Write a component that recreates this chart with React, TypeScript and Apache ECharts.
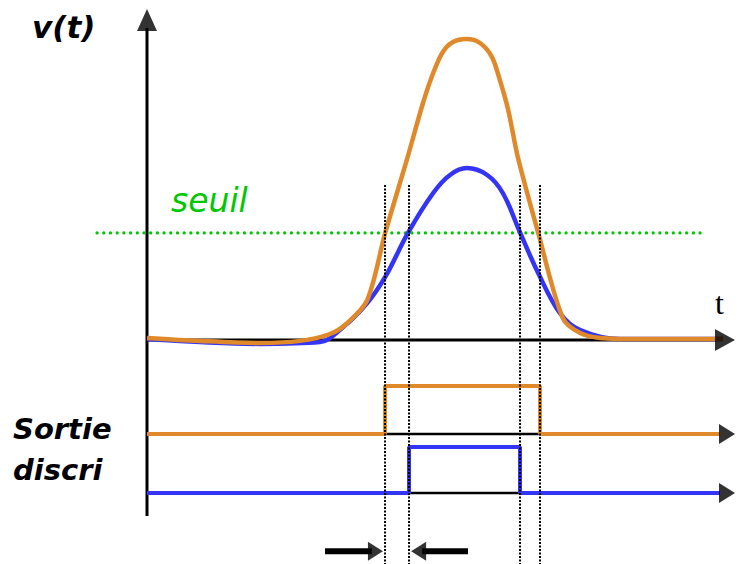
import React, { useEffect, useRef } from "react";
import * as echarts from "echarts";

// Time axis (arbitrary units) and voltage axis (arbitrary units)
const T_MIN = -24.5;
const T_MAX = 99;
const V_MIN = -74.67;
const V_MAX = 113.33;

// Large pulse (orange)
const orangeT = [0, 8.8, 18.8, 25.5, 30.5, 33.3, 36.7, 39.7, 43.3, 46, 47.7, 49.3, 51, 53.2, 55.5, 57.5, 58.8, 60.2, 61.8, 65.2, 69.3, 72.2, 75.5, 83.8, 96];
const orangeV = [0.7, -0.3, -1, -0.3, 2, 5.5, 13.3, 35.7, 60, 79, 89, 96, 99.3, 100.3, 99, 94.3, 86.7, 76.7, 61, 35.7, 7.3, 2.3, 0.7, 0.3, 0.3];

// Small pulse (blue)
const blueT = [0, 18.8, 28.8, 32.7, 36.7, 39.7, 43.5, 47.7, 50.5, 53.3, 56.7, 59.3, 62.2, 65.2, 68.8, 72.2, 78.8, 96];
const blueV = [0.3, -1.3, -0.7, 4.3, 12.3, 21, 35.7, 49, 55, 57.3, 55, 49, 35.7, 22.3, 9, 3.3, 0.3, 0.3];

// Discriminator threshold
const SEUIL = 35.7;

// Threshold crossing times [rising, falling]
const orangeCross = [39.67, 65.5];
const blueCross = [43.67, 62.17];

// Discriminator output levels [low, high]
const orangeOut = [-31.33, -15.33];
const blueOut = [-51, -35.67];

const ORANGE = "#e0892a";
const BLUE = "#3434f6";
const GREEN = "#00c800";
const COMIC = "'Comic Sans MS', 'DejaVu Sans', sans-serif";

const seg = (pts: number[][], color: string, width: number, type: any = "solid", z = 2, extra: any = {}) => ({
  type: "line",
  data: pts,
  symbol: "none",
  silent: true,
  z,
  lineStyle: { color, width, type, ...extra },
});

const stepPoints = (cross: number[], lv: number[]) => [
  [0, lv[0]],
  [cross[0], lv[0]],
  [cross[0], lv[1]],
  [cross[1], lv[1]],
  [cross[1], lv[0]],
  [95.5, lv[0]],
];

export default function App() {
  const ref = useRef<HTMLDivElement>(null);
  useEffect(() => {
    if (!ref.current) return;
    const chart = echarts.init(ref.current, null, { renderer: "svg" });

    const orangeData = orangeT.map((t, i) => [t, orangeV[i]]);
    const blueData = blueT.map((t, i) => [t, blueV[i]]);

    const heads = [
      { value: [0, 106.67], symbolRotate: 0, symbolSize: [20, 22] },
      { value: [96.33, 0], symbolRotate: -90, symbolSize: [22, 20] },
      { value: [96.67, orangeOut[0]], symbolRotate: -90, symbolSize: [20, 16] },
      { value: [96.67, blueOut[0]], symbolRotate: -90, symbolSize: [20, 16] },
      { value: [orangeCross[0] - 1.6, -70.4], symbolRotate: -90, symbolSize: [19, 15] },
      { value: [blueCross[0] + 1.6, -70.4], symbolRotate: 90, symbolSize: [19, 15] },
    ];

    const crossTimes = [orangeCross[0], blueCross[0], blueCross[1], orangeCross[1]];

    const series: any[] = [
      // axes
      seg([[0, -58.67], [0, 104]], "#000", 3),
      seg([[0, 0], [95, 0]], "#000", 3),
      // threshold
      seg([[-8.33, SEUIL], [92.2, SEUIL]], GREEN, 3.2, [0.1, 6.6], 3, { cap: "round" }),
      // pulses
      { type: "line", data: blueData, symbol: "none", smooth: 0.35, silent: true, z: 4, lineStyle: { color: BLUE, width: 4.5 } },
      { type: "line", data: orangeData, symbol: "none", smooth: 0.3, silent: true, z: 5, lineStyle: { color: ORANGE, width: 4.5 } },
      // black reference under the output pulses
      seg([[orangeCross[0], orangeOut[0]], [orangeCross[1], orangeOut[0]]], "#000", 2.5, "solid", 3),
      seg([[blueCross[0], blueOut[0]], [blueCross[1], blueOut[0]]], "#000", 2.5, "solid", 3),
      // discriminator outputs
      seg(stepPoints(orangeCross, orangeOut), ORANGE, 4, "solid", 4),
      seg(stepPoints(blueCross, blueOut), BLUE, 4, "solid", 4),
      // bottom arrow shafts
      seg([[29.67, -70.4], [orangeCross[0] - 2.2, -70.4]], "#000", 6),
      seg([[blueCross[0] + 2.2, -70.4], [53.5, -70.4]], "#000", 6),
      // arrow heads
      {
        type: "scatter",
        data: heads,
        symbol: "triangle",
        silent: true,
        z: 6,
        itemStyle: { color: "#000" },
      },
    ];

    crossTimes.forEach((t) => {
      series.push(seg([[t, 51.67], [t, V_MIN]], "#000", 2, [2, 1.5], 7));
    });

    chart.setOption({
      animation: false,
      backgroundColor: "#fff",
      grid: { left: 0, right: 0, top: 0, bottom: 0 },
      xAxis: { type: "value", min: T_MIN, max: T_MAX, show: false },
      yAxis: { type: "value", min: V_MIN, max: V_MAX, show: false },
      series,
      graphic: [
        {
          type: "text",
          left: 32,
          top: 11,
          style: { text: "v(t)", font: `italic bold 31px ${COMIC}`, fill: "#000" },
        },
        {
          type: "text",
          left: 171,
          top: 184,
          style: { text: "seuil", font: `italic 33px ${COMIC}`, fill: GREEN },
        },
        {
          type: "text",
          left: 715,
          top: 287,
          style: { text: "t", font: "32px 'Liberation Serif', 'Times New Roman', serif", fill: "#000" },
        },
        {
          type: "text",
          left: 13,
          top: 414,
          style: { text: "Sortie", font: `italic bold 29px ${COMIC}`, fill: "#000" },
        },
        {
          type: "text",
          left: 13,
          top: 455,
          style: { text: "discri", font: `italic bold 29px ${COMIC}`, fill: "#000" },
        },
      ],
    });
    return () => chart.dispose();
  }, []);

  return (
    <div
      ref={ref}
      style={{ position: "fixed", left: 0, top: 0, width: 741, height: 564, background: "#fff" }}
    />
  );
}
